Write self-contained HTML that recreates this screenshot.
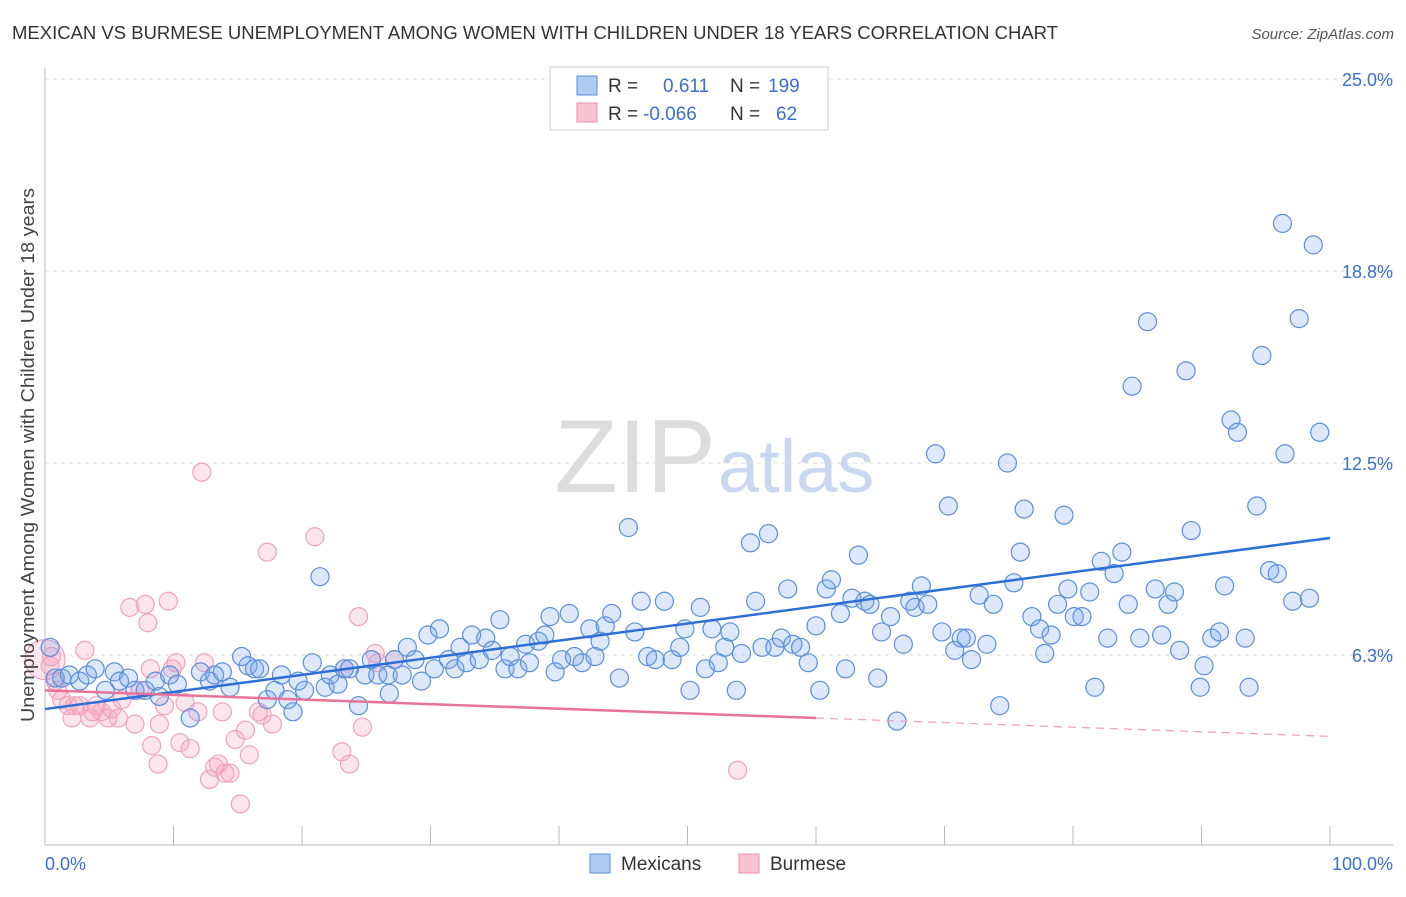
<!DOCTYPE html>
<html><head><meta charset="utf-8"><style>
body{margin:0;background:#fff;font-family:"Liberation Sans",sans-serif;}
svg text{font-family:"Liberation Sans",sans-serif;}
</style></head><body>
<svg id="chart" width="1406" height="892" xmlns="http://www.w3.org/2000/svg">
<text x="12" y="39" font-size="18.6" fill="#333" textLength="1046" lengthAdjust="spacingAndGlyphs">MEXICAN VS BURMESE UNEMPLOYMENT AMONG WOMEN WITH CHILDREN UNDER 18 YEARS CORRELATION CHART</text>
<text x="1394" y="39" font-size="15" fill="#555" text-anchor="end" font-style="italic">Source: ZipAtlas.com</text>
<text x="716" y="492" font-size="104" fill="#ddd" text-anchor="end" font-family="Liberation Serif">ZIP</text>
<text x="718" y="492" font-size="74" fill="#c8d8f0">atlas</text>
<g id="grid"></g>
<g id="axes"></g>
<g id="pink-pts"></g>
<g id="blue-pts"></g>
<g id="trends"></g>
<text transform="translate(34,455) rotate(-90)" font-size="18.5" fill="#444" text-anchor="middle" textLength="534" lengthAdjust="spacingAndGlyphs">Unemployment Among Women with Children Under 18 years</text>
<g>
<rect x="550" y="67" width="278" height="63" fill="#fff" stroke="#ccc"/>
<rect x="577" y="76" width="20" height="19" fill="#aecbf0" stroke="#5b8fd9"/>
<rect x="577" y="103" width="20" height="19" fill="#f8c4d2" stroke="#ec90ab"/>
<text x="608" y="92" font-size="19" fill="#333">R =</text>
<text x="663" y="92" font-size="19" fill="#3a6fd0">0.611</text>
<text x="730" y="92" font-size="19" fill="#333">N =</text>
<text x="768" y="92" font-size="19" fill="#3a6fd0">199</text>
<text x="608" y="120" font-size="19" fill="#333">R =</text>
<text x="643" y="120" font-size="19" fill="#3a6fd0">-0.066</text>
<text x="730" y="120" font-size="19" fill="#333">N =</text>
<text x="776" y="120" font-size="19" fill="#3a6fd0">62</text>
</g>
<g>
<rect x="590" y="854" width="20" height="19" fill="#aecbf0" stroke="#5b8fd9"/>
<text x="621" y="870" font-size="19" fill="#333">Mexicans</text>
<rect x="739" y="854" width="20" height="19" fill="#f8c4d2" stroke="#ec90ab"/>
<text x="770" y="870" font-size="19" fill="#333">Burmese</text>
</g>
</svg>
<script>
const yTicks=[6.3,12.5,18.8,25.0];
const yTickVals=[6.25,12.5,18.75,25];
const xTickLabels=["0.0%","100.0%"];
const blueX=[0.4,0.8,1.3,1.9,2.7,3.3,3.9,4.7,5.4,5.8,6.5,7.0,7.8,8.6,8.9,9.7,10.3,11.3,12.1,12.8,13.2,13.8,14.4,15.3,15.8,16.3,16.7,17.3,17.9,18.4,18.9,19.3,19.7,20.2,20.8,21.4,21.8,22.2,22.8,23.3,23.7,24.4,24.9,25.4,25.9,26.7,26.8,27.2,27.8,28.2,28.8,29.3,29.8,30.3,30.7,31.4,31.9,32.3,32.8,33.2,33.8,34.3,34.8,35.4,35.8,36.2,36.8,37.4,37.7,38.4,38.9,39.3,39.7,40.2,40.8,41.2,41.8,42.4,42.8,43.2,43.6,44.1,44.7,45.4,45.9,46.4,46.9,47.5,48.2,48.8,49.4,49.8,50.2,51.0,51.4,51.9,52.4,52.9,53.3,53.8,54.2,54.9,55.3,55.8,56.3,56.8,57.3,57.8,58.2,58.8,59.4,60.0,60.3,60.8,61.2,61.9,62.3,62.8,63.3,63.8,64.2,64.8,65.1,65.8,66.3,66.8,67.3,67.7,68.2,68.7,69.3,69.8,70.3,70.8,71.3,71.7,72.1,72.7,73.3,73.8,74.3,74.9,75.4,75.9,76.2,76.8,77.4,77.8,78.3,78.8,79.3,79.6,80.1,80.7,81.3,81.7,82.2,82.7,83.2,83.8,84.3,84.6,85.2,85.8,86.4,86.9,87.4,87.9,88.3,88.8,89.2,89.9,90.2,90.8,91.4,91.8,92.3,92.8,93.4,93.7,94.3,94.7,95.3,95.9,96.5,97.1,97.6,98.4,98.7,99.2,96.3];
const blueY=[6.5,5.5,5.5,5.6,5.4,5.6,5.8,5.1,5.7,5.4,5.5,5.1,5.1,5.4,4.9,5.6,5.3,4.2,5.7,5.4,5.6,5.7,5.2,6.2,5.9,5.8,5.8,4.8,5.1,5.6,4.8,4.4,5.4,5.1,6.0,8.8,5.2,5.6,5.3,5.8,5.8,4.6,5.6,6.1,5.6,5.6,5.0,6.1,5.6,6.5,6.1,5.4,6.9,5.8,7.1,6.1,5.8,6.5,6.0,6.9,6.1,6.8,6.4,7.4,5.8,6.2,5.8,6.6,6.0,6.7,6.9,7.5,5.7,6.1,7.6,6.2,6.0,7.1,6.2,6.7,7.2,7.6,5.5,10.4,7.0,8.0,6.2,6.1,8.0,6.1,6.5,7.1,5.1,7.8,5.8,7.1,6.0,6.5,7.0,5.1,6.3,9.9,8.0,6.5,10.2,6.5,6.8,8.4,6.6,6.5,6.0,7.2,5.1,8.4,8.7,7.6,5.8,8.1,9.5,8.0,7.9,5.5,7.0,7.5,4.1,6.6,8.0,7.8,8.5,7.9,12.8,7.0,11.1,6.4,6.8,6.8,6.1,8.2,6.6,7.9,4.6,12.5,8.6,9.6,11.0,7.5,7.1,6.3,6.9,7.9,10.8,8.4,7.5,7.5,8.3,5.2,9.3,6.8,8.9,9.6,7.9,15.0,6.8,17.1,8.4,6.9,7.9,8.3,6.4,15.5,10.3,5.2,5.9,6.8,7.0,8.5,13.9,13.5,6.8,5.2,11.1,16.0,9.0,8.9,12.8,8.0,17.2,8.1,19.6,13.5,20.3];
const pinkX=[0.5,0.8,1.0,1.3,1.8,2.1,2.3,2.7,3.1,3.5,3.7,4.0,4.4,4.9,5.2,5.7,6.0,6.6,7.0,7.4,7.8,8.0,8.2,8.3,8.8,8.9,9.3,9.6,9.9,10.2,10.5,10.9,11.3,11.9,12.2,12.4,12.8,13.2,13.5,13.8,14.0,14.4,14.8,15.2,15.6,15.9,16.6,16.9,17.3,17.7,21.0,23.1,23.3,23.7,24.4,24.7,25.7,25.9,27.2,53.9,0.4];
const pinkY=[6.2,5.4,5.1,4.8,4.6,4.2,4.6,4.6,6.4,4.2,4.4,4.6,4.4,4.2,4.5,4.2,4.8,7.8,4.0,5.1,7.9,7.3,5.8,3.3,2.7,4.0,4.6,8.0,5.8,6.0,3.4,4.7,3.2,4.4,12.2,6.0,2.2,2.6,2.7,4.4,2.4,2.4,3.5,1.4,3.8,3.0,4.4,4.3,9.6,4.0,10.1,3.1,5.8,2.7,7.5,3.9,6.3,6.0,6.1,2.5,5.9];
const pinkBigX=[0.0], pinkBigY=[6.1];
const blueTrend=[4.49,10.06];
const pinkTrend=[5.1,3.6];
const pinkSolidEnd=60;

const X0=45,X1=1330,Y0=847,PY=30.72;
const sx=v=>X0+(X1-X0)*v/100, sy=v=>Y0-v*PY;
const NS="http://www.w3.org/2000/svg";
function mk(tag,attrs,parent){const e=document.createElementNS(NS,tag);for(const k in attrs)e.setAttribute(k,attrs[k]);document.getElementById(parent).appendChild(e);return e;}

yTickVals.forEach((v,i)=>{
  const g=mk('line',{x1:45,x2:1393,y1:sy(v),y2:sy(v),stroke:'#ddd','stroke-dasharray':'4,4'},'grid');
  
  
  const t=mk('text',{x:1393,y:sy(v)+7,'font-size':18,fill:'#3a6fd0','text-anchor':'end'},'grid');
  t.textContent=yTicks[i].toFixed(1)+'%';
  
  
});
const ax=mk('line',{x1:45,x2:45,y1:68,y2:845,stroke:'#bbb'},'axes');


const bx=mk('line',{x1:45,x2:1393,y1:845,y2:845,stroke:'#bbb'},'axes');


for(let i=0;i<=10;i++){
  const t=mk('line',{x1:sx(i*10),x2:sx(i*10),y1:826,y2:845,stroke:'#bbb'},'axes');
  
  
}
[[0,'start',45],[1,'end',1393]].forEach(([i,a,x])=>{
  const t=mk('text',{x:x,y:870,'font-size':18,fill:'#3a6fd0','text-anchor':a},'axes');
  t.textContent=xTickLabels[i];
  
  
});
pinkX.forEach((v,i)=>{
  const c=mk('circle',{cx:sx(v),cy:sy(pinkY[i]),r:9,fill:'rgba(244,160,186,0.28)',stroke:'#f0a3bb','stroke-width':1.2},'pink-pts');
  
  
});
pinkBigX.forEach((v,i)=>{
  const c=mk('circle',{cx:sx(v),cy:sy(pinkBigY[i]),r:20,fill:'rgba(244,160,186,0.28)',stroke:'#f0a3bb','stroke-width':1.2},'pink-pts');
  
  
});
blueX.forEach((v,i)=>{
  const c=mk('circle',{cx:sx(v),cy:sy(blueY[i]),r:9,fill:'rgba(120,165,235,0.25)',stroke:'#5b8fd9','stroke-width':1.2},'blue-pts');
  
  
});
const bl=mk('line',{x1:sx(0),y1:sy(blueTrend[0]),x2:sx(100),y2:sy(blueTrend[1]),stroke:'#2e6fd6','stroke-width':2.5},'trends');


const pAt=x=>pinkTrend[0]+(pinkTrend[1]-pinkTrend[0])*x/100;
const pl=mk('line',{x1:sx(0),y1:sy(pAt(0)),x2:sx(pinkSolidEnd),y2:sy(pAt(pinkSolidEnd)),stroke:'#e8729a','stroke-width':2.5},'trends');


const pd=mk('line',{x1:sx(pinkSolidEnd),y1:sy(pAt(pinkSolidEnd)),x2:sx(100),y2:sy(pAt(100)),stroke:'#f0a3bb','stroke-width':1.3,'stroke-dasharray':'8,6'},'trends');


</script>
</body></html>
